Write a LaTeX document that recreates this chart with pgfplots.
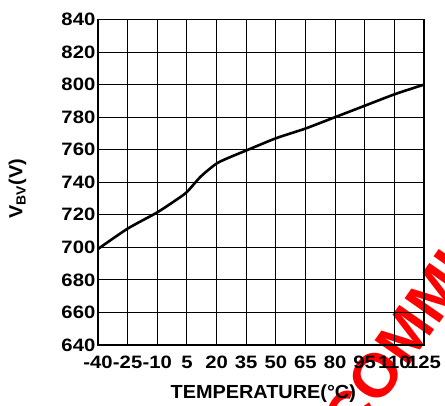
\documentclass[border=0pt]{standalone}
\usepackage{fontspec}
\setmainfont{Liberation Sans}
\newfontfamily\tickfont{Liberation Sans}[FakeStretch=1.13]
\newfontfamily\labfont{Liberation Sans}[FakeStretch=1.05]
\usepackage{pgfplots}
\pgfplotsset{compat=1.18}
\usetikzlibrary{calc}

\begin{document}
\begin{tikzpicture}
  % red watermark, partly outside the page
  \node[rotate=55, text=red, font=\bfseries\fontsize{62}{62}\selectfont] at (300bp,0bp) {COMMI};

  \begin{axis}[
    name=ax,
    scale only axis,
    width=326bp,
    height=325.5bp,
    xmin=-40, xmax=125,
    ymin=640, ymax=840,
    xtick={-40,-25,...,125},
    ytick={640,660,...,840},
    grid=major,
    grid style={black, line width=0.9bp},
    axis line style={black, line width=1.7bp},
    major tick length=0pt,
    /pgf/number format/assume math mode=true,
    ticklabel style={font=\tickfont\bfseries\fontsize{18}{18}\selectfont},
    xticklabel style={anchor=base, inner sep=0pt, yshift=-23bp},
    yticklabel style={anchor=east, inner sep=0pt, xshift=-2.5bp},
    xlabel={TEMPERATURE(°C)},
    ylabel={V\textsubscript{BV}(V)},
    label style={font=\labfont\bfseries\fontsize{19}{19}\selectfont},
    xlabel style={anchor=base, at={(rel axis cs:0.507,0)}, yshift=-53bp},
    ylabel style={anchor=center, at={(rel axis cs:0,0.48)}, yshift=80.5bp},
  ]
    \addplot[black, line width=2.6bp, smooth, tension=0.4] coordinates {
      (-40,699) (-25,711.5) (-10,721.5) (0,729.5) (5,734) (12,743.5)
      (20,751.5) (27,755.5) (35,759.5) (50,767) (65,773) (80,780)
      (95,787) (110,794) (125,800)
    };
  \end{axis}
  \pgfresetboundingbox
  \path[use as bounding box] ($(ax.south west)+(-98bp,-61bp)$) rectangle ($(ax.north east)+(21bp,19.5bp)$);
\end{tikzpicture}
\end{document}
